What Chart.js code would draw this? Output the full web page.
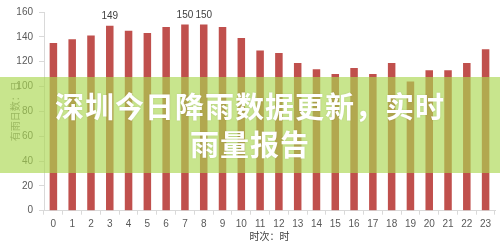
<!DOCTYPE html>
<html><head><meta charset="utf-8">
<script src="https://cdn.jsdelivr.net/npm/chart.js@4"></script>
<style>
html,body{margin:0;padding:0;background:#fff;}
#wrap{position:relative;width:500px;height:250px;overflow:hidden;}
#banner{position:absolute;left:0;top:77px;width:500px;height:96px;background:rgba(170,215,80,0.65);color:#fff;font-family:"Noto Sans CJK SC",sans-serif;font-weight:700;font-size:29px;line-height:38px;text-align:center;padding-top:9px;box-sizing:border-box;letter-spacing:1px;text-shadow:0 0 2px rgba(0,0,0,0.12);}
</style></head>
<body><div id="wrap"><canvas id="c" width="500" height="250" style="width:500px;height:250px;display:block"></canvas><div id="banner">深圳今日降雨数据更新，实时<br>雨量报告</div></div>
<script>
const hours = ['0','1','2','3','4','5','6','7','8','9','10','11','12','13','14','15','16','17','18','19','20','21','22','23'];
const values = [135,138,141,149,145,143,148,150,150,148,139,129,127,119,114,110,115,110,119,104,113,113,119,130];
const labeledHours = [3,7,8];
const yTicks = [0,20,40,60,80,100,120,140,160];
const xTitle = '时次：时';
const yTitle = '有雨日数：日';

const labelPlugin = {
  id:'peakLabels',
  afterDatasetsDraw(chart){
    const ctx = chart.ctx, meta = chart.getDatasetMeta(0);
    ctx.save();
    ctx.font = '10px "Liberation Sans", sans-serif';
    ctx.fillStyle = '#404040';
    ctx.textAlign = 'center';
    ctx.textBaseline = 'bottom';
    labeledHours.forEach(i => { const el = meta.data[i]; ctx.fillText(String(values[i]), el.x, el.y - 4); });
    ctx.restore();
  }
};

new Chart(document.getElementById('c'), {
  type:'bar',
  data:{labels:hours, datasets:[{data:values, backgroundColor:'#c0504d', barPercentage:0.4, categoryPercentage:1}]},
  options:{
    responsive:false, animation:false, devicePixelRatio:1,
    layout:{padding:{left:0,right:5,top:10,bottom:0}},
    plugins:{legend:{display:false}, tooltip:{enabled:false}},
    scales:{
      x:{
        offset:true,
        grid:{display:true, drawOnChartArea:false, offset:true, color:'#d9d9d9', tickColor:'#d9d9d9', tickLength:4},
        border:{color:'#d9d9d9'},
        ticks:{color:'#595959', font:{size:10, family:'"Liberation Sans", sans-serif'}, padding:4, maxRotation:0, autoSkip:false},
        title:{display:true, text:xTitle, color:'#404040', font:{size:10, family:'"Noto Sans CJK SC", sans-serif'}, padding:{top:0,bottom:8}},
        afterFit(s){ s.height = 39.3; }
      },
      y:{
        min:0, max:160,
        afterBuildTicks(s){ s.ticks = yTicks.map(v => ({value:v})); },
        ticks:{color:'#595959', font:{size:10, family:'"Liberation Sans", sans-serif'}, padding:6},
        grid:{display:true, drawOnChartArea:false, color:'#d9d9d9', tickColor:'#d9d9d9', tickLength:5},
        border:{color:'#d9d9d9'},
        title:{display:true, text:yTitle, color:'#7f7f7f', font:{size:10, family:'"Noto Sans CJK SC", sans-serif'}, padding:{top:9,bottom:0}},
        afterFit(s){ s.width = 44; }
      }
    }
  },
  plugins:[labelPlugin]
});
</script>
</body></html>
